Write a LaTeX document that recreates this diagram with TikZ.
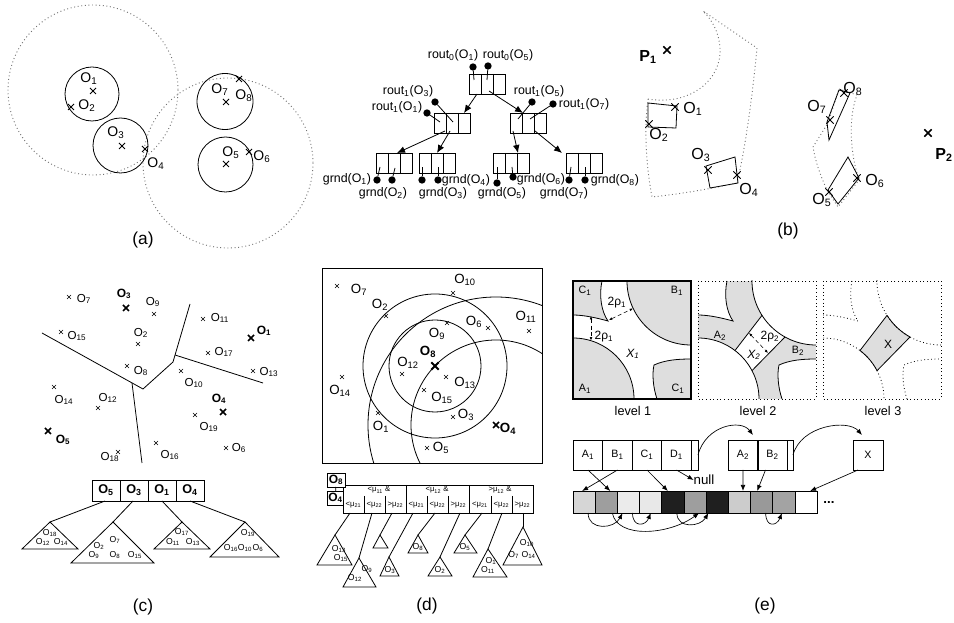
\documentclass[tikz,border=0pt]{standalone}
\usepackage{fontspec}
\setmainfont{Liberation Sans}
\usetikzlibrary{arrows.meta,shapes.misc,calc}
\newcommand\Ox[1]{O\textsubscript{#1}}
\newcommand\celldiv[2]{\foreach \f in {#2}{\draw[ln] ($(#1.north west)!\f!(#1.north east)$) -- ($(#1.south west)!\f!(#1.south east)$);}}
\newcommand\pathCtl{(0,0) -- (29,0) .. controls (26,14) and (28,30) .. (35,40) .. controls (24,37) and (11,34) .. (0,34) -- cycle}
\newcommand\pathCbr{(118,118) -- (84,118) .. controls (80,106) and (79,93) .. (81,84) .. controls (92,79) and (105,78) .. (118,78) -- cycle}
\newcommand\curveCtl{(29,0) .. controls (26,14) and (28,30) .. (35,40) .. controls (24,37) and (11,34) .. (0,34)}
\newcommand\curveCbr{(84,118) .. controls (80,106) and (79,93) .. (81,84) .. controls (92,79) and (105,78) .. (118,78)}
\newcommand\pathX{(64,34.4) -- (37,69.5) arc[start angle=-52.7,end angle=-27.7,radius=61] -- (87,56) arc[start angle=119,end angle=147.5,radius=64] -- cycle}
\begin{document}
\begin{tikzpicture}[x=0.75pt,y=-0.75pt,
  every node/.style={inner sep=0pt,outer sep=0pt},
  ln/.style={line width=0.6pt},
  dcirc/.style={draw=black!55,dotted,line width=0.7pt},
  dreg/.style={draw=black!55,dotted,line width=0.7pt},
  xm/.style={cross out,draw,minimum size=4.5pt,line width=0.6pt},
  xs/.style={cross out,draw,minimum size=3pt,line width=0.5pt},
  xb/.style={cross out,draw,minimum size=4.5pt,line width=1.3pt},
  fa/.style={font=\fontsize{10.5}{12}\selectfont},
  fb/.style={font=\fontsize{12}{14}\selectfont},
  ft/.style={font=\fontsize{9.3}{11}\selectfont},
  fc/.style={font=\fontsize{8.7}{10}\selectfont},
  fcb/.style={font=\fontsize{9}{10}\selectfont\bfseries},
  fcs/.style={font=\fontsize{6.5}{7}\selectfont},
  fd/.style={font=\fontsize{10}{12}\selectfont},
  fdt/.style={font=\fontsize{5.8}{7}\selectfont},
  fe/.style={font=\fontsize{8}{9}\selectfont},
  fel/.style={font=\fontsize{9.5}{11}\selectfont},
  fcap/.style={font=\fontsize{13}{15}\selectfont},
  cb/.style={draw,line width=0.6pt,minimum width=27pt,minimum height=15pt},
  pdot/.style={circle,fill,minimum size=5.5pt},
  tarr/.style={line width=0.6pt,-{Latex[length=6pt,width=5pt]}},
  earr/.style={line width=0.5pt,-{Latex[length=4.5pt,width=3.5pt]}},
  rho/.style={line width=0.4pt,densely dashed,{Latex[length=2.5pt,width=2pt]}-{Latex[length=2.5pt,width=2pt]}},
  lg/.style={fill=black!13},
  dsq/.style={dotted,line width=0.7pt},
]
\useasboundingbox (0,0) rectangle (954,623);

% ================= (a)
\draw[dcirc] (93,90) circle (85);
\draw[dcirc] (228,163) circle (85);
\draw[ln] (92,94) circle (27);
\draw[ln] (120.5,145.5) circle (27.5);
\draw[ln] (225,101.5) circle (28);
\draw[ln] (225.5,164.5) circle (27.5);
\node[xm] (ax1) at (93,91) {};   \node[fa] (al1) at (89,79) {\Ox{1}};
\node[xm] (ax2) at (71,107) {};  \node[fa] (al2) at (87,106) {\Ox{2}};
\node[xm] (ax3) at (122,146) {}; \node[fa] (al3) at (116,133) {\Ox{3}};
\node[xm] (ax4) at (145,149) {}; \node[fa] (al4) at (156,164) {\Ox{4}};
\node[xm] (ax7) at (226,102) {}; \node[fa] (al7) at (220,90) {\Ox{7}};
\node[xm] (ax8) at (239,79) {};  \node[fa] (al8) at (244,96) {\Ox{8}};
\node[xm] (ax5) at (226,164) {}; \node[fa] (al5) at (231,153) {\Ox{5}};
\node[xm] (ax6) at (249,152) {}; \node[fa] (al6) at (262,157) {\Ox{6}};
\node[fcap] (capa) at (143,240) {(a)};

% ================= tree
\node[cb] (root) at (487,84) {};
\node[cb] (lbox) at (452,123) {};
\node[cb] (rbox) at (528,123) {};
\node[cb] (lf1) at (394,163) {};
\node[cb] (lf2) at (437,163) {};
\node[cb] (lf3) at (511,163) {};
\node[cb] (lf4) at (584,163) {};
\foreach \n in {root,lbox,rbox,lf1,lf2,lf3,lf4}{\celldiv{\n}{0.3333,0.6667}}
\draw[tarr] ($(root.south)+(-10,0)$) -- ($(lbox.north)+(12,0)$);
\draw[tarr] ($(root.south)+(2,-3)$) -- ($(rbox.north)+(-5,0)$);
\draw[tarr] ($(lbox.south)+(-7,-2)$) -- ($(lf1.north)+(3,0)$);
\draw[tarr] ($(lbox.south)+(-2,-2)$) -- ($(lf2.north)+(0,0)$);
\draw[tarr] ($(rbox.south)+(-15,-2)$) -- ($(lf3.north)+(7,0)$);
\draw[tarr] ($(rbox.south)+(7,-2)$) -- ($(lf4.north west)+(-4,0)$);
% pins
\node[pdot] (pr1) at (473,67) {};  \coordinate (pr1e) at (474,80);  \draw[ln] (pr1) -- (pr1e);
\node[pdot] (pr2) at (488,66) {};  \coordinate (pr2e) at (487,80);  \draw[ln] (pr2) -- (pr2e);
\node[pdot] (pl1) at (427,113) {}; \coordinate (pl1e) at (440,122); \draw[ln] (pl1) -- (pl1e);
\node[pdot] (pl2) at (435,102) {}; \coordinate (pl2e) at (453,122); \draw[ln] (pl2) -- (pl2e);
\node[pdot] (pq1) at (532,102) {}; \coordinate (pq1e) at (518,119); \draw[ln] (pq1) -- (pq1e);
\node[pdot] (pq2) at (553,104) {}; \coordinate (pq2e) at (530,119); \draw[ln] (pq2) -- (pq2e);
\node[pdot] (pg1) at (377,180) {}; \coordinate (pg1e) at (380,167); \draw[ln] (pg1) -- (pg1e);
\node[pdot] (pg2) at (392,180) {}; \coordinate (pg2e) at (395,168); \draw[ln] (pg2) -- (pg2e);
\node[pdot] (pg3) at (422,180) {}; \coordinate (pg3e) at (422,167); \draw[ln] (pg3) -- (pg3e);
\node[pdot] (pg4) at (438,180) {}; \coordinate (pg4e) at (438,167); \draw[ln] (pg4) -- (pg4e);
\node[pdot] (pg5) at (497,183) {}; \coordinate (pg5e) at (497,167); \draw[ln] (pg5) -- (pg5e);
\node[pdot] (pg6) at (513,177) {}; \coordinate (pg6e) at (512,167); \draw[ln] (pg6) -- (pg6e);
\node[pdot] (pg7) at (569,180) {}; \coordinate (pg7e) at (571,167); \draw[ln] (pg7) -- (pg7e);
\node[pdot] (pg8) at (585,180) {}; \coordinate (pg8e) at (585,167); \draw[ln] (pg8) -- (pg8e);
\node[ft] (tl1) at (453,55) {rout\textsubscript{0}(O\textsubscript{1})};
\node[ft] (tl2) at (508,55) {rout\textsubscript{0}(O\textsubscript{5})};
\node[ft] (tl3) at (408,91) {rout\textsubscript{1}(O\textsubscript{3})};
\node[ft] (tl4) at (397,107) {rout\textsubscript{1}(O\textsubscript{1})};
\node[ft] (tl5) at (539,91) {rout\textsubscript{1}(O\textsubscript{5})};
\node[ft] (tl6) at (584,104) {rout\textsubscript{1}(O\textsubscript{7})};
\node[ft] (gl1) at (347,179) {grnd(O\textsubscript{1})};
\node[ft] (gl2) at (383,193) {grnd(O\textsubscript{2})};
\node[ft] (gl3) at (443,193) {grnd(O\textsubscript{3})};
\node[ft] (gl4) at (466,180) {grnd(O\textsubscript{4})};
\node[ft] (gl5) at (502,193) {grnd(O\textsubscript{5})};
\node[ft] (gl6) at (541,179) {grnd(O\textsubscript{6})};
\node[ft] (gl7) at (564,193) {grnd(O\textsubscript{7})};
\node[ft] (gl8) at (615,180) {grnd(O\textsubscript{8})};

% ================= (b)
\draw[dreg] (648,99) .. controls (690,106) and (722,80) .. (720,48) .. controls (719,32) and (712,20) .. (703,11) -- (757,48) .. controls (752,100) and (745,150) .. (737,183) .. controls (710,189) and (680,194) .. (652,197) .. controls (646,165) and (644,130) .. (648,99) -- cycle;
\draw[dreg] (839,89) -- (857,95) .. controls (849,115) and (849,150) .. (859,180) -- (838,207) -- (827,190) .. controls (820,175) and (815,160) .. (813,147) -- (828,123) -- cycle;
\draw[ln] (648,103) -- (677,106) -- (676,128) -- (648,127) -- cycle;
\draw[ln] (706,166) -- (735,157) -- (738,183) -- (710,188) -- cycle;
\draw[ln] (839,90) -- (850,93) -- (829,140) -- (827,122) -- cycle;
\draw[ln] (848,157) -- (859,178) -- (838,204) -- (828,190) -- cycle;
\node[xm,minimum size=5.5pt] (bx1) at (675,107) {}; \node[fb] (bl1) at (693,109) {\Ox{1}};
\node[xm,minimum size=5.5pt] (bx2) at (649,124) {}; \node[fb] (bl2) at (659,135) {\Ox{2}};
\node[xm,minimum size=5.5pt] (bx3) at (708,170) {}; \node[fb] (bl3) at (701,155) {\Ox{3}};
\node[xm,minimum size=5.5pt] (bx4) at (737,175) {}; \node[fb] (bl4) at (749,190) {\Ox{4}};
\node[xm,minimum size=5.5pt] (bx8) at (844,93) {};  \node[fb] (bl8) at (853,89) {\Ox{8}};
\node[xm,minimum size=5.5pt] (bx7) at (830,120) {}; \node[fb] (bl7) at (817,107) {\Ox{7}};
\node[xm,minimum size=5.5pt] (bx6) at (857,178) {}; \node[fb] (bl6) at (875,181) {\Ox{6}};
\node[xm,minimum size=5.5pt] (bx5) at (829,192) {}; \node[fb] (bl5) at (822,200) {\Ox{5}};
\node[cross out,draw,minimum size=5.5pt,line width=1.1pt] (p1x) at (667,50) {};
\node[fb,font=\fontsize{12}{14}\selectfont\bfseries] (p1l) at (648,57) {P\textsubscript{1}};
\node[cross out,draw,minimum size=5.5pt,line width=1.1pt] (p2x) at (928,133) {};
\node[fb,font=\fontsize{12}{14}\selectfont\bfseries] (p2l) at (944,155) {P\textsubscript{2}};
\node[fcap] (capb) at (788,231) {(b)};

% ================= (c)
\draw[ln] (42,333) -- (143,389) -- (173,362) -- (190,304);
\draw[ln] (175,355) -- (263,383);
\draw[ln] (132,383) -- (142,463);
\node[xs] (cx7) at (69,297) {};  \node[fc] (cl7) at (84,299) {\Ox{7}};
\node[xb] (cx3) at (126,308) {}; \node[fcb] (cl3) at (124,294) {\Ox{3}};
\node[xs] (cx9) at (154,314) {}; \node[fc] (cl9) at (153,302) {\Ox{9}};
\node[xs] (cx11) at (203,319) {}; \node[fc] (cl11) at (220,318) {\Ox{11}};
\node[xb] (cx1) at (251,338) {}; \node[fcb] (cl1) at (264,331) {\Ox{1}};
\node[xs] (cx15) at (61,332) {}; \node[fc] (cl15) at (77,336) {\Ox{15}};
\node[xs] (cx2) at (138,344) {}; \node[fc] (cl2) at (141,333) {\Ox{2}};
\node[xs] (cx17) at (208,353) {}; \node[fc] (cl17) at (224,352) {\Ox{17}};
\node[xs] (cx8) at (127,366) {}; \node[fc] (cl8) at (141,371) {\Ox{8}};
\node[xs] (cx13) at (253,371) {}; \node[fc] (cl13) at (269,372) {\Ox{13}};
\node[xs] (cx10) at (181,371) {}; \node[fc] (cl10) at (194,383) {\Ox{10}};
\node[xs] (cx14) at (54,387) {}; \node[fc] (cl14) at (64,400) {\Ox{14}};
\node[xs] (cx12) at (98,408) {}; \node[fc] (cl12) at (108,398) {\Ox{12}};
\node[xb] (cx4) at (223,412) {}; \node[fcb] (cl4) at (219,399) {\Ox{4}};
\node[xs] (cx19) at (195,415) {}; \node[fc] (cl19) at (209,427) {\Ox{19}};
\node[xb] (cx5) at (48,431) {}; \node[fcb] (cl5) at (63,440) {\Ox{5}};
\node[xs] (cx16) at (156,443) {}; \node[fc] (cl16) at (170,455) {\Ox{16}};
\node[xs] (cx6) at (226,448) {}; \node[fc] (cl6) at (239,448) {\Ox{6}};
\node[xs] (cx18) at (118,452) {}; \node[fc] (cl18) at (110,457) {\Ox{18}};
% node row
\node[draw,ln,minimum width=21pt,minimum height=15.75pt,fcb,font=\fontsize{9.5}{11}\selectfont\bfseries] (c5) at (106,490.5) {\Ox{5}};
\node[draw,ln,minimum width=21pt,minimum height=15.75pt,font=\fontsize{9.5}{11}\selectfont\bfseries] (c3) at (134,490.5) {\Ox{3}};
\node[draw,ln,minimum width=21pt,minimum height=15.75pt,font=\fontsize{9.5}{11}\selectfont\bfseries] (c1) at (162,490.5) {\Ox{1}};
\node[draw,ln,minimum width=21pt,minimum height=15.75pt,font=\fontsize{9.5}{11}\selectfont\bfseries] (c4) at (190,490.5) {\Ox{4}};
\coordinate (ta1) at (50,522); \coordinate (ta2) at (113,522);
\coordinate (ta3) at (182,522); \coordinate (ta4) at (245,522);
\draw[ln] (ta1) -- (22,549) -- (78,549) -- cycle;
\draw[ln] (ta2) -- (71,563) -- (154,563) -- cycle;
\draw[ln] (ta3) -- (154,549) -- (210,549) -- cycle;
\draw[ln] (ta4) -- (210,557) -- (279,557) -- cycle;
\draw[ln] ($(c5.south)+(-1,0)$) -- (ta1);
\draw[ln] ($(c3.south)+(-1,0)$) -- (ta2);
\draw[ln] (c1.south) -- (ta3);
\draw[ln] (c4.south) -- (ta4);
\node[fcs] (t1a) at (50,533) {\Ox{18}};
\node[fcs] (t1b) at (43,542) {\Ox{12}};
\node[fcs] (t1c) at (61,542) {\Ox{14}};
\node[fcs] (t2a) at (115,540) {\Ox{7}};
\node[fcs] (t2b) at (99,546) {\Ox{2}};
\node[fcs] (t2c) at (94,555) {\Ox{9}};
\node[fcs] (t2d) at (115,555) {\Ox{8}};
\node[fcs] (t2e) at (135,555) {\Ox{15}};
\node[fcs] (t3a) at (182,532) {\Ox{17}};
\node[fcs] (t3b) at (173,542) {\Ox{11}};
\node[fcs] (t3c) at (193,542) {\Ox{13}};
\node[fcs] (t4a) at (248,533) {\Ox{19}};
\node[fcs] (t4b) at (231,548) {\Ox{16}};
\node[fcs] (t4c) at (245,548) {\Ox{10}};
\node[fcs] (t4d) at (258,548) {\Ox{6}};
\node[fcap] (capc) at (143,607) {(c)};

% ================= (d)
\begin{scope}
  \clip (322,268) rectangle (542,463);
  \draw[ln] (435,366) circle (46);
  \draw[ln] (435,366) circle (72);
  \draw[ln] (496,425) circle (85);
  \draw[ln] (496,425) circle (128);
\end{scope}
\draw[ln] (322,268) rectangle (542,463);
\node[xs] (dx7) at (337,286) {};  \node[fd] (dl7) at (359,290) {\Ox{7}};
\node[xs] (dx2) at (386,316) {};  \node[fd] (dl2) at (380,305) {\Ox{2}};
\node[xs] (dx10) at (453,293) {}; \node[fd] (dl10) at (465,280) {\Ox{10}};
\node[xs] (dx6) at (488,328) {};  \node[fd] (dl6) at (474,322) {\Ox{6}};
\node[xs] (dx11) at (529,331) {}; \node[fd] (dl11) at (526,317) {\Ox{11}};
\node[xs] (dx9) at (447,323) {};  \node[fd] (dl9) at (437,334) {\Ox{9}};
\node[cross out,draw,minimum size=5.5pt,line width=1.5pt] (dx8) at (435,366) {};
\node[fd,font=\fontsize{10}{12}\selectfont\bfseries] (dl8) at (428,352) {\Ox{8}};
\node[xs] (dx12) at (402,374) {}; \node[fd] (dl12) at (408,363) {\Ox{12}};
\node[xs] (dx14) at (342,377) {}; \node[fd] (dl14) at (340,391) {\Ox{14}};
\node[xs] (dx13) at (446,377) {}; \node[fd] (dl13) at (465,383) {\Ox{13}};
\node[xs] (dx15) at (424,390) {}; \node[fd] (dl15) at (442,398) {\Ox{15}};
\node[xs] (dx3) at (453,417) {};  \node[fd] (dl3) at (466,415) {\Ox{3}};
\node[xs] (dx1) at (378,413) {};  \node[fd] (dl1) at (381,427) {\Ox{1}};
\node[cross out,draw,minimum size=4.5pt,line width=1.3pt] (dx4) at (496,425) {};
\node[fd,font=\fontsize{10}{12}\selectfont\bfseries] (dl4) at (508,429) {\Ox{4}};
\node[xs] (dx5) at (427,448) {};  \node[fd] (dl5) at (441,448) {\Ox{5}};
% index structure
\draw[ln] (343,485) rectangle (533,513);
\draw[ln] (406,485) -- (406,513) (469,485) -- (469,513);
\foreach \x in {364,385,427,448,491,512}{\draw[ln] (\x,496) -- (\x,513);}
\node[draw,ln,fill=white,minimum width=13.5pt,minimum height=10.5pt,font=\fontsize{9}{10}\selectfont\bfseries] (ob8) at (336,480) {\Ox{8}};
\node[draw,ln,fill=white,minimum width=12pt,minimum height=10.5pt,font=\fontsize{9}{10}\selectfont\bfseries] (ob4) at (335.5,498) {\Ox{4}};
\draw[ln] (ob8) -- (ob4);
\node[fdt] (gh1) at (379,490) {<μ\textsubscript{11} \&};
\node[fdt] (gh2) at (437,490) {<μ\textsubscript{12} \&};
\node[fdt] (gh3) at (500,490) {>μ\textsubscript{12} \&};
\foreach \x/\t [count=\k] in {353.5/<μ\textsubscript{21},374.5/<μ\textsubscript{22},395.5/>μ\textsubscript{22},416.5/<μ\textsubscript{21},437.5/<μ\textsubscript{22},458.5/>μ\textsubscript{22},480/<μ\textsubscript{21},501.5/<μ\textsubscript{22},522.5/>μ\textsubscript{22}}{\node[fdt] (sh\k) at (\x,504.5) {\t};}
\coordinate (db1) at (350,513); \coordinate (db2) at (372,513); \coordinate (db3) at (392,513);
\coordinate (db4) at (413,513); \coordinate (db5) at (435,513); \coordinate (db6) at (460,513);
\coordinate (db7) at (482,513); \coordinate (db8) at (502,513); \coordinate (db9) at (523,513);
\coordinate (da1) at (335,535); \coordinate (da2) at (359,558); \coordinate (da3) at (380,535);
\coordinate (da4) at (389,557); \coordinate (da5) at (418,535); \coordinate (da6) at (440,557);
\coordinate (da7) at (465,535); \coordinate (da8) at (488,549); \coordinate (da9) at (523,527);
\foreach \k in {1,...,9}{\draw[ln] (db\k) -- (da\k);}
\draw[ln] (da1) -- (317,565) -- (352,565) -- cycle;
\draw[ln] (da2) -- (343,587) -- (376,587) -- cycle;
\draw[ln] (da3) -- (373,548) -- (388,548) -- cycle;
\draw[ln] (da4) -- (380,576) -- (399,576) -- cycle;
\draw[ln] (da5) -- (408,553) -- (428,553) -- cycle;
\draw[ln] (da6) -- (428,576) -- (452,576) -- cycle;
\draw[ln] (da7) -- (454,553) -- (477,553) -- cycle;
\draw[ln] (da8) -- (473,577) -- (507,577) -- cycle;
\draw[ln] (da9) -- (503,565) -- (542,565) -- cycle;
\node[fcs] (u1) at (339,549) {\Ox{13}};
\node[fcs] (u2) at (341,558) {\Ox{15}};
\node[fcs] (u3) at (367,569) {\Ox{9}};
\node[fcs] (u4) at (355,578) {\Ox{12}};
\node[fcs] (u5) at (390,570) {\Ox{3}};
\node[fcs] (u6) at (418,547) {\Ox{8}};
\node[fcs] (u7) at (440,570) {\Ox{2}};
\node[fcs] (u8) at (465,547) {\Ox{5}};
\node[fcs] (u9) at (491,561) {\Ox{1}};
\node[fcs] (u10) at (488,570) {\Ox{11}};
\node[fcs] (u11) at (527,543) {\Ox{10}};
\node[fcs] (u12) at (522,555) {\Ox{7} \Ox{14}};
\node[fcap] (capd) at (427,606) {(d)};

% ================= (e) level squares
\begin{scope}[shift={(573,281)}]
  \fill[white] (0,0) rectangle (118,118);
  \begin{scope}
    \clip (0,0) rectangle (118,118);
    \filldraw[lg,ln] (0,118) circle (61);
    \filldraw[lg,ln] (118,0) circle (64);
  \end{scope}
  \fill[lg] \pathCtl; \draw[ln] \curveCtl;
  \fill[lg] \pathCbr; \draw[ln] \curveCbr;
  \draw[line width=0.9pt] (0,0) rectangle (118,118);
  \draw[rho] (18,35) -- (18,59.5);
  \draw[rho] (36,39) -- (60,27.5);
  \node[font=\fontsize{9}{10}\selectfont] (r1a) at (44,22) {2ρ\textsubscript{1}};
  \node[font=\fontsize{9}{10}\selectfont] (r1b) at (31,56) {2ρ\textsubscript{1}};
  \node[font=\fontsize{9}{10}\selectfont\itshape] (x1l) at (60,73) {X\textsubscript{1}};
  \node[fe] (lc1) at (12,10) {C\textsubscript{1}};
  \node[fe] (lb1) at (104,10) {B\textsubscript{1}};
  \node[fe] (la1) at (12,108) {A\textsubscript{1}};
  \node[fe] (lc2) at (105,108) {C\textsubscript{1}};
\end{scope}
\begin{scope}[shift={(698,281)}]
  \begin{scope}
    \clip (0,0) rectangle (118,118);
    \fill[lg] (0,0) rectangle (118,118);
    \fill[white] (0,118) circle (61);
    \fill[white] (118,0) circle (64);
    \fill[white] \pathCtl;
    \fill[white] \pathCbr;
    \fill[white] \pathX;
    \draw[ln] (0,118) circle (61);
    \draw[ln] (118,0) circle (64);
    \draw[ln] \curveCtl;
    \draw[ln] \curveCbr;
    \draw[ln] (64,34.4) -- (37,69.5) (54,89.6) -- (87,56);
  \end{scope}
  \draw[dsq] (0,0) rectangle (118,118);
  \draw[rho] (51,52) -- (70,72);
  \node[font=\fontsize{9}{10}\selectfont] (r2a) at (72,56) {2ρ\textsubscript{2}};
  \node[font=\fontsize{9}{10}\selectfont\itshape] (x2l) at (56,74) {X\textsubscript{2}};
  \node[fe] (la2) at (22,55) {A\textsubscript{2}};
  \node[fe] (lb2) at (100,70) {B\textsubscript{2}};
\end{scope}
\begin{scope}[shift={(823,281)}]
  \fill[lg] \pathX;
  \begin{scope}
    \clip (0,0) rectangle (118,118);
    \draw[dotted,line width=0.6pt] (0,118) circle (61);
    \draw[dotted,line width=0.6pt] (118,0) circle (64);
  \end{scope}
  \draw[dotted,line width=0.6pt] \curveCtl;
  \draw[dotted,line width=0.6pt] \curveCbr;
  \draw[ln] \pathX;
  \draw[dsq] (0,0) rectangle (118,118);
  \node[font=\fontsize{9}{10}\selectfont] (x3l) at (65,63) {X};
\end{scope}
\node[fel] (lev1) at (633,411) {level 1};
\node[fel] (lev2) at (758,411) {level 2};
\node[fel] (lev3) at (883,411) {level 3};

% ================= (e) lists
\tikzset{ecell/.style={draw,ln,minimum height=22.5pt,fe}}
\node[ecell,minimum width=22.1pt] (eA1) at (588,455) {A\textsubscript{1}};
\node[ecell,minimum width=22.1pt] (eB1) at (617.5,455) {B\textsubscript{1}};
\node[ecell,minimum width=22.1pt] (eC1) at (647,455) {C\textsubscript{1}};
\node[ecell,minimum width=22.1pt] (eD1) at (676.5,455) {D\textsubscript{1}};
\node[ecell,minimum width=5.2pt] (e1n) at (694.5,455) {};
\node[ecell,minimum width=22.3pt] (eA2) at (743,455) {A\textsubscript{2}};
\node[ecell,minimum width=21.8pt] (eB2) at (772.5,455) {B\textsubscript{2}};
\node[ecell,minimum width=4.5pt] (e2n) at (790,455) {};
\node[ecell,minimum width=22.5pt] (eX) at (868,455) {X};
\foreach \i/\c in {1/black!16,2/black!38,3/black!8,4/black!9,5/black!88,6/black!38,7/black!88,8/black!20,9/black!40,10/black!36,11/white}{
  \node[draw,ln,fill=\c,minimum width=16.65pt,minimum height=16.5pt] (s\i) at ({573+22.2*\i-11.1},502) {};}
\node[font=\fontsize{10}{11}\selectfont\bfseries] (edots) at (829,503) {...};
\node[font=\fontsize{10}{12}\selectfont] (nullt) at (704,480) {null};
\draw[earr] (eD1.south) -- (nullt.west);
\draw[earr] (eA1.south) -- ($(s2.north)+(4,0)$);
\draw[earr] (eB1.south) -- ($(s1.north)+(-2,0)$);
\draw[earr] (eC1.south) -- ($(s5.north)+(-5,0)$);
\draw[earr] (eA2.south) -- ($(s8.north)+(3.5,0)$);
\draw[earr] ($(eB2.south)+(-7,0)$) -- ($(s9.north)+(-4.5,0)$);
\draw[earr] ($(eX.south)+(-10,0)$) -- ($(s11.north)+(4,0)$);
\draw[earr] (e1n.east) .. controls +(8,-30) and +(-12,-16) .. ($(eA2.north)+(10,-5)$);
\draw[earr] (e2n.east) .. controls +(8,-30) and +(-14,-16) .. ($(eX.north)+(-6,-5)$);
\draw[earr] ($(s1.south)+(4,0)$) .. controls +(0,18) and +(-8,16) .. ($(s3.south)+(-6,0)$);
\draw[earr] ($(s3.south)+(4,0)$) .. controls +(0,15) and +(-5,13) .. (s4.south);
\draw[earr] ($(s2.south)+(6,0)$) .. controls +(5,26) and +(-30,22) .. ($(s6.south)+(4,0)$);
\draw[earr] ($(s5.south)+(4,0)$) .. controls +(0,16) and +(-8,14) .. ($(s7.south)+(-9,0)$);
\draw[earr] ($(s9.south)+(4,0)$) .. controls +(0,15) and +(-5,13) .. ($(s10.south)+(-2,0)$);
\node[fcap] (cape) at (765,606) {(e)};
\end{tikzpicture}
\end{document}
